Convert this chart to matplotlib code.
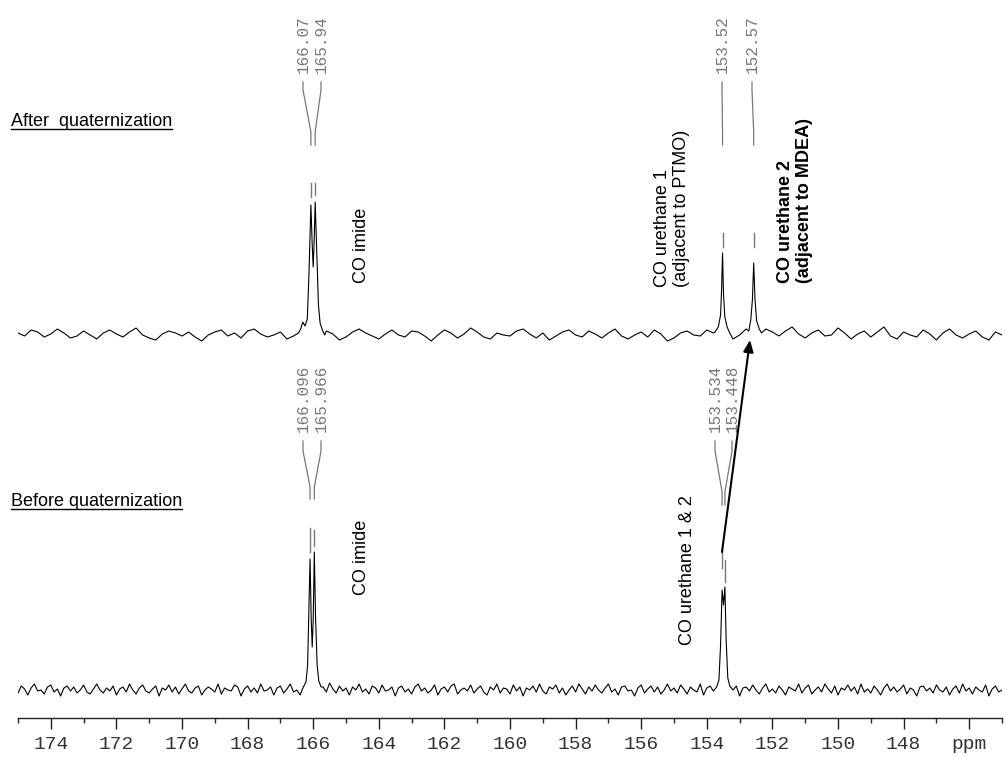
import numpy as np
import matplotlib
matplotlib.use("Agg")
import matplotlib.pyplot as plt
from matplotlib.ticker import MultipleLocator

# ── data (intensities in arbitrary units, baseline = 0) ─────────────────
# baseline noise, "after" trace, sampled every 0.2 ppm from 175 to 145
noise_after = [
    2, -1, 5, 3, -2, 1, 6, 2, -3, -1, 4, 0, -4, 2, 5,
    1, -2, 3, 7, 0, -3, -5, 1, 4, 2, -1, 3, -2, -6, 0,
    3, 5, -1, 2, -3, 4, 6, 1, -2, 0, 3, -4, -1, 5, 2,
    -3, 0, 4, 1, -5, -2, 3, 6, 2, -1, -4, 1, 5, 0, -2,
    4, 3, -1, -6, 0, 5, 2, -3, 1, 7, 3, -2, -4, 2, 0,
    -1, 4, 6, 1, -3, 2, -5, -1, 3, 5, 0, -2, 4, 1, -3,
    2, 6, -1, -4, 0, 3, -2, 5, 1, -6, -3, 2, 4, 0, -1,
    5, 2, -3, -6, -4, 0, 3, -2, 1, 6, 3, -1, 4, 8, 1,
    -3, 2, 5, -1, 0, 7, 2, -4, 1, 4, -2, 3, 8, -1, -4,
    3, 0, -2, 5, 1, -5, 2, 6, 0, -3, 1, 4, -2, -5, 3,
    0,
]
# baseline noise, "before" trace, sampled every 0.1 ppm from 175 to 145
noise_before = [
    -3, 4, 1, -5, 2, 6, -1, 0, -4, 3, 5, -2, 1, -6, 2, 4, -1, 3, -3, 0,
    5, -2, -4, 1, 6, 0, -3, 2, -1, 4, -5, 1, 3, -2, 6, 0, -4, 2, 5, -1,
    -3, 1, 4, -6, 2, 0, 5, -2, 3, -4, 1, 6, -1, -3, 2, 4, -5, 0, 3, 1,
    -2, 6, -4, 2, 0, -1, 5, 3, -6, 1, 4, -2, 2, -3, 6, -1, 0, 3, -5, 2,
    4, -3, 1, 6, -2, 0, -5, 3, 2, -1, 5, -4, 0, 3, -2, 7, 1, -3, 4, -1,
    2, -5, 3, 0, 6, -2, 1, -4, 4, 2, -3, 5, -1, 0, 3, -6, 2, 4, -2, 1,
    -4, 3, 6, -1, 2, -3, 0, 5, -5, 1, 3, -2, 4, 6, -4, 0, 2, -1, 5, -3,
    1, 4, -2, -5, 3, 0, 6, -3, 2, 1, -4, 5, -1, 3, -6, 2, 0, 4, -2, 6,
    -1, -4, 3, 1, 5, -3, 2, -5, 0, 4, -2, 6, 1, -4, 3, -1, 5, 0, -3, 2,
    6, -2, 1, -5, 3, 4, -1, 0, -6, 2, 5, -3, 1, 4, -2, 3, -4, 0, 6, -1,
    2, -3, 5, 1, -4, 3, 0, -2, 6, -5, 2, 4, -1, 3, -3, 1, 5, -2, 0, 4,
    -6, 2, 3, -1, 5, 0, -4, 2, 6, -2, 1, -3, 4, 0, -5, 3, 1, -1, 6, -3,
    2, 5, -4, 0, 3, -2, 6, 1, -3, 4, -5, 2, 0, 5, -1, 3, -4, 6, -2, 1,
    -3, 4, 0, -5, 2, 6, -1, 3, -2, 1, 5, -4, 2, 0, -6, 3, 4, -1, 2, -3,
    5, 0, -2, 3, -5, 1, 4, -3, 6, -1, 2, -4, 3, 0, -2, 5, -6, 1, 4, -2,
    0,
]

# peak profiles: (ppm, intensity) points
after_imide_ppm = [166.45, 166.38, 166.32, 166.25, 166.18, 166.13, 166.07, 166.03,
                   166.00, 165.97, 165.94, 165.89, 165.84, 165.79, 165.72, 165.65]
after_imide_int = [2, 6, 13, 9, 16, 60, 130, 90, 68, 95, 133, 80, 30, 12, 5, 0]
after_ur1_ppm = [153.75, 153.65, 153.58, 153.55, 153.52, 153.49, 153.45, 153.38, 153.30]
after_ur1_int = [3, 8, 20, 45, 82, 40, 18, 8, 2]
after_ur2_ppm = [152.80, 152.72, 152.66, 152.61, 152.57, 152.53, 152.48, 152.40, 152.33]
after_ur2_int = [6, 4, 15, 35, 72, 35, 14, 6, 2]

before_imide_ppm = [166.30, 166.22, 166.17, 166.13, 166.096, 166.06, 166.03, 166.00,
                    165.966, 165.93, 165.88, 165.83, 165.76]
before_imide_int = [3, 8, 25, 80, 131, 70, 43, 70, 138, 75, 25, 9, 3]
before_ur_ppm = [153.70, 153.63, 153.58, 153.534, 153.49, 153.448, 153.41, 153.36, 153.30]
before_ur_int = [3, 10, 45, 100, 85, 103, 50, 12, 4]

# peak-pick labels
after_picks = [166.07, 165.94, 153.52, 152.57]
before_picks = [166.096, 165.966, 153.534, 153.448]

major_ticks = [174, 172, 170, 168, 166, 164, 162, 160, 158, 156, 154, 152, 150, 148, 146]

# ── layout helpers (pixel geometry of the 1006x757 canvas) ──────────────
W, H = 1006, 757
AX_BOT = 718          # pixel row of the ppm axis


def py(row):
    return AX_BOT - row


def ppm_at(col):
    return 175 - (col - 18) / 32.8


def build(grid, noise, peaks):
    x = np.asarray(grid, float)
    y = np.asarray(noise, float)
    for px_, pi_ in peaks:
        keep = (x > max(px_)) | (x < min(px_))
        x, y = x[keep], y[keep]
    xs = np.concatenate([x] + [np.asarray(p[0], float) for p in peaks])
    ys = np.concatenate([y] + [np.asarray(p[1], float) for p in peaks])
    order = np.argsort(xs)[::-1]
    return xs[order], ys[order]


grid_after = np.round(np.linspace(175, 145, len(noise_after)), 3)
grid_before = np.round(np.linspace(175, 145, len(noise_before)), 3)
xa, ya = build(grid_after, noise_after,
               [(after_imide_ppm, after_imide_int), (after_ur1_ppm, after_ur1_int),
                (after_ur2_ppm, after_ur2_int)])
xb, yb = build(grid_before, noise_before,
               [(before_imide_ppm, before_imide_int), (before_ur_ppm, before_ur_int)])

fig = plt.figure(figsize=(W / 100, H / 100), dpi=100)
ax = fig.add_axes([18 / W, (H - AX_BOT) / H, 984 / W, AX_BOT / H])
ax.set_xlim(175, 145)
ax.set_ylim(0, AX_BOT)

ax.plot(xa, ya + py(335), color="k", lw=0.8)
ax.plot(xb, yb + py(690), color="k", lw=0.8)

for s in ("top", "left", "right"):
    ax.spines[s].set_visible(False)
ax.spines["bottom"].set_linewidth(1.0)
ax.spines["bottom"].set_color("#222222")
ax.set_yticks([])
ax.set_xticks(major_ticks)
ax.set_xticklabels([str(t) for t in major_ticks[:-1]] + ["ppm"],
                   family="Liberation Mono", fontsize=14, color="#333333")
ax.xaxis.set_minor_locator(MultipleLocator(1))
ax.tick_params(axis="x", which="major", length=8, width=1, pad=5, color="#222222")
ax.tick_params(axis="x", which="minor", length=3.5, width=1, color="#222222")

# ── peak-pick connectors and labels ────────────────────────────────────
GREY = "#777777"


def pick_group(peaks, label_cols, text_bot, l0, l1, l2, l3, ticks):
    for pk, col, (t0, t1) in zip(peaks, label_cols, ticks):
        lx = ppm_at(col)
        ax.plot([lx, lx, pk, pk], [py(l0), py(l1), py(l2), py(l3)], color=GREY, lw=0.9)
        ax.plot([pk, pk], [py(t0), py(t1)], color=GREY, lw=1.0)
        ax.text(lx, py(text_bot), str(pk), rotation=90, ha="center", va="bottom",
                family="Liberation Mono", fontsize=11.5, color=GREY)


pick_group(after_picks[:2], [303, 321], 73, 82, 90, 132, 145, [(183, 197), (183, 195)])
pick_group(after_picks[2:], [722, 752], 73, 82, 90, 132, 145, [(233, 247), (233, 247)])
pick_group(before_picks[:2], [303, 321], 432, 441, 451, 487, 499, [(528, 552), (530, 546)])
pick_group(before_picks[2:], [715, 732], 432, 441, 451, 492, 505, [(550, 568), (560, 582)])

# ── annotations ────────────────────────────────────────────────────────
SANS = "Liberation Sans"
ax.text(ppm_at(362), py(245), "CO imide", rotation=90, ha="center", va="center",
        family=SANS, fontsize=13)
ax.text(ppm_at(362), py(557), "CO imide", rotation=90, ha="center", va="center",
        family=SANS, fontsize=13)
ax.text(ppm_at(672), py(287), "CO urethane 1\n(adjacent to PTMO)", rotation=90,
        ha="center", va="bottom", multialignment="left", family=SANS, fontsize=13,
        linespacing=1.1)
ax.text(ppm_at(795), py(283), "CO urethane 2\n(adjacent to MDEA)", rotation=90,
        ha="center", va="bottom", multialignment="left", family=SANS, fontsize=13,
        fontweight="bold", linespacing=1.1)
ax.text(ppm_at(687), py(645), "CO urethane 1 & 2", rotation=90, ha="center",
        va="bottom", family=SANS, fontsize=13)

ax.annotate("", xy=(ppm_at(750), py(340)), xytext=(ppm_at(722), py(552)),
            arrowprops=dict(arrowstyle="-|>,head_length=0.7,head_width=0.3",
                            color="k", lw=1.5, shrinkA=0, shrinkB=0))

t_after = fig.text(11 / W, 1 - 126 / H, "After  quaternization", family=SANS,
                   fontsize=13, va="baseline", ha="left")
t_before = fig.text(11 / W, 1 - 506 / H, "Before quaternization", family=SANS,
                    fontsize=13, va="baseline", ha="left")
fig.canvas.draw()
r = fig.canvas.get_renderer()
for t, row in ((t_after, 129), (t_before, 509)):
    bb = t.get_window_extent(r)
    fig.add_artist(plt.Line2D([bb.x0 / W, bb.x1 / W], [1 - row / H, 1 - row / H],
                              transform=fig.transFigure, color="k", lw=1.0))

fig.savefig("out.png", dpi=100)
